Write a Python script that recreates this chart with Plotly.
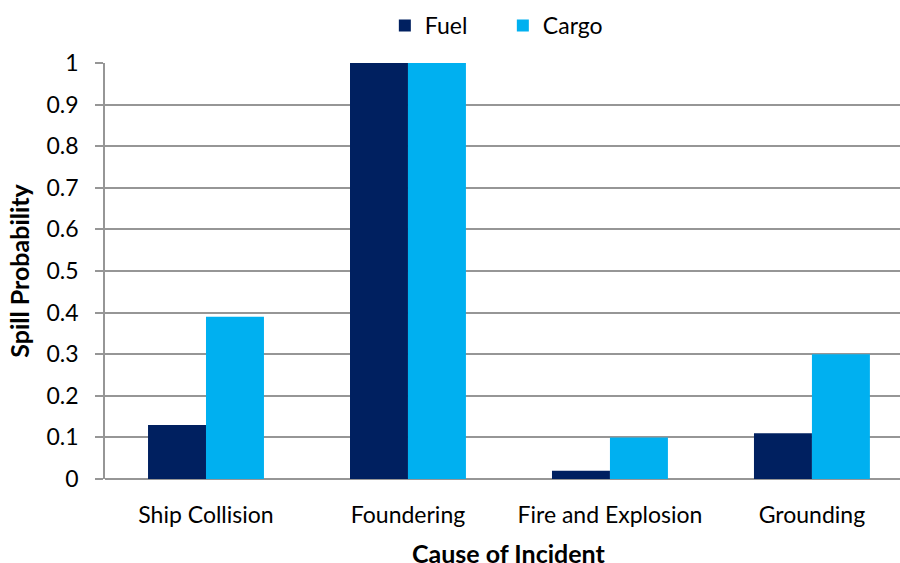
import plotly.graph_objects as go

categories = ["Ship Collision", "Foundering", "Fire and Explosion", "Grounding"]
fuel = [0.13, 1.0, 0.02, 0.11]
cargo = [0.39, 1.0, 0.10, 0.30]
y_ticks = [0, 0.1, 0.2, 0.3, 0.4, 0.5, 0.6, 0.7, 0.8, 0.9, 1]
y_tick_labels = ["0", "0.1", "0.2", "0.3", "0.4", "0.5", "0.6", "0.7", "0.8", "0.9", "1"]
x_title = "Cause of Incident"
y_title = "Spill Probability"

FONT = "Lato"
FS = 23
FS_TITLE = 25

fig = go.Figure()
fig.add_trace(go.Bar(name="Fuel", x=categories, y=fuel, marker=dict(color="#002060", line=dict(width=0))))
fig.add_trace(go.Bar(name="Cargo", x=categories, y=cargo, marker=dict(color="#00B0F0", line=dict(width=0))))

fig.update_layout(
    width=900, height=563,
    margin=dict(l=105, r=0, t=63, b=84, autoexpand=False),
    paper_bgcolor="white", plot_bgcolor="white",
    barmode="group", bargap=0.426, bargroupgap=0,
    font=dict(family=FONT, size=FS, color="black"),
    legend=dict(orientation="h", x=0.352, xanchor="left", y=1.09, yanchor="middle",
                font=dict(size=FS), traceorder="normal", itemwidth=30,
                entrywidth=73, entrywidthmode="pixels"),
    xaxis=dict(
        showgrid=False, showline=False, ticks="", automargin=False,
        range=[-0.5, 3.436],
        ticklabelstandoff=20,
        tickfont=dict(size=FS),
    ),
    yaxis=dict(
        range=[0, 1], tickvals=y_ticks, ticktext=y_tick_labels, automargin=False,
        showgrid=True, gridcolor="#969696", gridwidth=1.5,
        showline=True, linecolor="#969696", linewidth=1.5,
        ticks="outside", ticklen=8, tickcolor="#969696", tickwidth=1.5,
        zeroline=True, zerolinecolor="#969696", zerolinewidth=1.5,
        ticklabelstandoff=12,
        title=dict(text="<b>" + y_title + "</b>", font=dict(size=FS_TITLE), standoff=10),
        tickfont=dict(size=FS),
    ),
    annotations=[
        dict(text="<b>" + x_title + "</b>", xref="paper", yref="paper", x=0.508, y=0,
             xanchor="center", yanchor="middle", yshift=-74, showarrow=False,
             font=dict(size=FS_TITLE, family=FONT, color="black")),
    ],
)

fig.write_html(
    "out.html",
    config={"displayModeBar": False},
    post_script="document.body.style.margin='0';document.body.style.padding='0';document.body.style.overflow='hidden';",
)
